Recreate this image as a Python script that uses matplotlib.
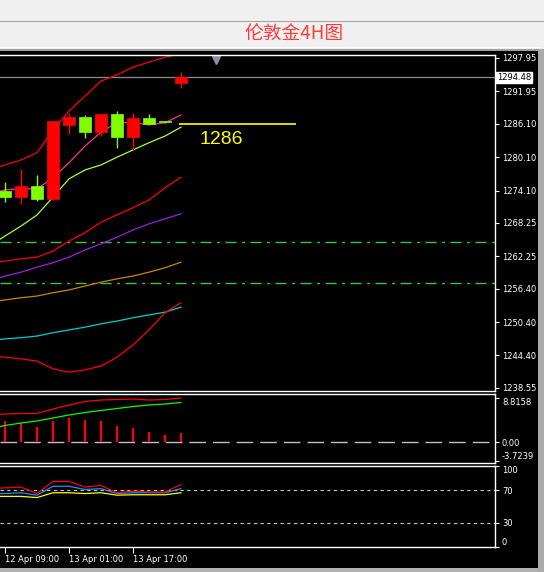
import numpy as np
import matplotlib.pyplot as plt
import matplotlib.patches as patches
import matplotlib.transforms as mtransforms

W, H = 544, 572

# 4H candles (12 bars)
opens  = [1272.9, 1274.9, 1272.6, 1286.6, 1287.3, 1284.6, 1287.9, 1283.7, 1287.2, 1286.1, 1286.4, 1294.5]
highs  = [1275.6, 1278.0, 1276.9, 1286.6, 1288.1, 1287.7, 1287.9, 1288.4, 1288.1, 1287.9, 1286.6, 1295.4]
lows   = [1272.0, 1271.7, 1272.2, 1272.4, 1284.3, 1283.6, 1283.9, 1281.8, 1281.4, 1286.0, 1286.3, 1292.6]
closes = [1274.0, 1272.9, 1274.9, 1272.6, 1285.9, 1287.3, 1284.6, 1287.9, 1283.7, 1287.2, 1286.6, 1293.4]

# indicator lines, one value per bar starting one bar before the first candle
bb_upper  = [1277.8, 1278.7, 1279.6, 1280.9, 1285.0, 1288.4, 1291.1, 1293.8, 1294.9, 1296.3, 1297.2, 1298.1, 1298.7]
ma_pink   = [1273.5, 1274.2, 1274.4, 1274.4, 1276.4, 1279.1, 1282.1, 1284.6, 1286.3, 1286.3, 1285.9, 1286.3, 1287.7]
ma_lime   = [1264.1, 1265.9, 1267.7, 1269.7, 1272.9, 1276.2, 1277.8, 1278.7, 1280.1, 1281.4, 1282.7, 1283.9, 1285.5]
ma_red    = [1260.9, 1261.4, 1261.8, 1262.1, 1263.2, 1265.0, 1266.5, 1268.4, 1269.7, 1271.0, 1272.4, 1274.6, 1276.5]
ma_purple = [1257.8, 1258.7, 1259.4, 1260.3, 1261.1, 1262.1, 1263.4, 1264.5, 1265.7, 1267.0, 1268.1, 1269.0, 1269.9]
ma_orange = [1254.0, 1254.4, 1254.8, 1255.1, 1255.7, 1256.2, 1256.9, 1257.6, 1258.2, 1258.7, 1259.4, 1260.2, 1261.2]
ma_cyan   = [1247.0, 1247.4, 1247.6, 1247.9, 1248.5, 1249.0, 1249.5, 1250.1, 1250.6, 1251.2, 1251.7, 1252.2, 1253.1]
bb_lower  = [1244.3, 1244.1, 1243.8, 1243.4, 1242.0, 1241.4, 1241.8, 1242.5, 1244.1, 1246.3, 1249.0, 1252.1, 1253.9]

price_now = 1294.48
level_line = 1286.10
level_label = "1286"
zone_lines = [1264.85, 1257.4]
price_ticks = [1297.95, 1291.95, 1286.10, 1280.10, 1274.10, 1268.25, 1262.25, 1256.40, 1250.40, 1244.40, 1238.55]

# MACD panel
macd_hist   = [4.2, 3.8, 3.0, 4.2, 4.8, 4.4, 4.2, 3.2, 2.8, 2.0, 1.4, 1.8]
macd_main   = [5.4, 5.6, 5.7, 5.7, 6.6, 7.4, 8.1, 8.4, 8.5, 8.6, 8.4, 8.5, 8.8]
macd_signal = [2.6, 3.3, 3.8, 4.2, 4.8, 5.4, 5.9, 6.3, 6.7, 7.1, 7.4, 7.6, 7.9]
macd_ticks = [8.8158, 0.0, -3.7239]
macd_labels = ["8.8158", "0.00", "-3.7239"]

# oscillator panel
rsi_red    = [72, 73, 74, 66, 81, 81, 74, 76, 67, 69, 68, 68, 77]
rsi_blue   = [66, 66, 67, 64, 75, 75, 71, 72, 66, 67, 67, 67, 72]
rsi_yellow = [62.5, 62.5, 62.5, 61, 67, 67, 66, 67, 64, 64.5, 64.5, 64.5, 67]
rsi_ticks = [100, 70, 30, 0]

time_ticks = [0, 4, 8]
time_labels = ["12 Apr 09:00", "13 Apr 01:00", "13 Apr 17:00"]

bars = np.arange(len(opens))
ind_x = np.arange(-1, len(opens))
xlim = (-0.3125, 30.625)
line_w = 0.9

fig = plt.figure(figsize=(W / 100, H / 100), dpi=100)
fig.patch.set_facecolor('#F0F0F0')


def px_rect(x0, y0, x1, y1, color):
    fig.add_artist(patches.Rectangle((x0 / W, 1 - y1 / H), (x1 - x0) / W, (y1 - y0) / H,
                                     transform=fig.transFigure, facecolor=color,
                                     edgecolor='none', zorder=-5))


def px_axes(x0, y0, x1, y1):
    ax = fig.add_axes([x0 / W, 1 - y1 / H, (x1 - x0) / W, (y1 - y0) / H])
    ax.set_facecolor('black')
    ax.set_xlim(*xlim)
    for s in ['top', 'right', 'bottom']:
        ax.spines[s].set_color('white')
        ax.spines[s].set_linewidth(1)
    ax.spines['left'].set_visible(False)
    ax.yaxis.tick_right()
    ax.tick_params(axis='y', colors='white', length=3, width=0.8, labelsize=6, pad=2)
    ax.set_xticks([])
    return ax


# window frame
px_rect(0, 21, 544, 22, '#A0A0A0')
px_rect(0, 47, 540, 48, '#FFFFFF')
px_rect(0, 49, 544, 51, '#A0A0A0')
px_rect(0, 51, 538, 568, 'black')
px_rect(538, 49, 544, 572, '#ABABAB')
px_rect(0, 568, 538, 572, '#B0B0B0')

fig.text(294.5 / W, 1 - 34 / H, "伦敦金4H图", fontsize=13.5, color='#FF3C3C',
         family=['Noto Sans CJK SC', 'DejaVu Sans'], ha='center', va='center')

# ---- main price panel
ax = px_axes(0, 55, 495, 391)
ax.set_ylim(1238.01, 1298.49)
ax.set_yticks(price_ticks)
ax.set_yticklabels([f"{p:.2f}" for p in price_ticks])

ax.axhline(price_now, color='#8C8C8C', lw=line_w)
for z in zone_lines:
    ax.axhline(z, color='#3EC43E', lw=1, ls=(0, (8, 4, 2, 4)))

lines = [(bb_upper, '#FF0000'), (ma_pink, '#FF2D9A'), (ma_lime, '#ADFF2F'),
         (ma_red, '#FF0000'), (ma_purple, '#9B1FE0'), (ma_orange, '#C8860B'),
         (ma_cyan, '#00CED1'), (bb_lower, '#FF0000')]
for vals, col in lines:
    ax.plot(ind_x, vals, color=col, lw=line_w)

for i in bars:
    o, h, l, c = opens[i], highs[i], lows[i], closes[i]
    col = '#7FFF00' if c >= o else '#FF0000'
    ax.vlines(i, l, h, color=col, lw=1, zorder=3)
    ax.bar(i, max(abs(c - o), 0.15), bottom=min(o, c), width=0.69,
           color=col, edgecolor=col, lw=0.5, zorder=4)

ax.hlines(level_line, 10.9, 18.2, color='#FFFF00', lw=1.2)
ax.text(12.15, 1283.2, level_label, color='#FFFF00', fontsize=14,
        family='Liberation Sans', ha='left', va='center')

blend = mtransforms.blended_transform_factory(ax.transAxes, ax.transData)
ax.text(1.004, price_now, f"{price_now:.2f}", transform=blend, color='black', fontsize=6,
        ha='left', va='center', bbox=dict(fc='white', ec='white', pad=0.9), zorder=10)
ax.plot(13.2, 0.985, marker='v', ms=6, color='#8A939C',
        transform=mtransforms.blended_transform_factory(ax.transData, ax.transAxes),
        clip_on=False)

# ---- MACD panel
ax2 = px_axes(0, 394, 495, 463)
ax2.set_ylim(-4.2, 9.6)
ax2.axhline(0, color='#C0C0C0', lw=1, ls=(0, (12, 5)))
ax2.vlines(bars, 0, macd_hist, color='#FF0000', lw=1.6)
ax2.plot(ind_x, macd_main, color='#FF0000', lw=line_w)
ax2.plot(ind_x, macd_signal, color='#00FF00', lw=line_w)
ax2.set_yticks(macd_ticks)
ax2.set_yticklabels(macd_labels)
tl = ax2.get_yticklabels()
tl[0].set_va('top')
tl[2].set_va('bottom')

# ---- oscillator panel
ax3 = px_axes(0, 466, 495, 547)
ax3.set_ylim(0, 100)
for lv in (70, 30):
    ax3.axhline(lv, color='#C8C8C8', lw=0.8, ls=(0, (3, 3)))
ax3.plot(ind_x, rsi_yellow, color='#FFFF00', lw=line_w)
ax3.plot(ind_x, rsi_blue, color='#1E90FF', lw=line_w)
ax3.plot(ind_x, rsi_red, color='#FF0000', lw=line_w)
ax3.set_yticks(rsi_ticks)
ax3.set_yticklabels([str(v) for v in rsi_ticks])
tl = ax3.get_yticklabels()
tl[0].set_va('top')
tl[3].set_va('bottom')
ax3.set_xticks(time_ticks)
ax3.set_xticklabels(time_labels, ha='left')
ax3.tick_params(axis='x', colors='white', length=4, width=0.8, labelsize=6, pad=2)

fig.savefig('out.png', dpi=100, facecolor=fig.get_facecolor())
